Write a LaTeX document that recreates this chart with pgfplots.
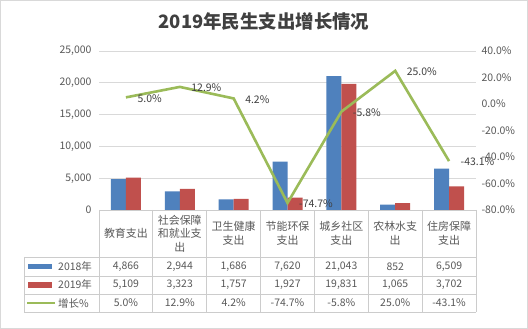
\documentclass[border=0pt]{standalone}
\usepackage{fontspec}
\setmainfont{Noto Sans CJK SC}
\usepackage{pgfplots}
\usepackage{pgfplotstable}
\pgfplotsset{compat=1.18}
\definecolor{cblue}{HTML}{4F81BD}
\definecolor{cred}{HTML}{C0504D}
\definecolor{cgreen}{HTML}{9BBB59}
\definecolor{txt}{HTML}{595959}
\definecolor{dtxt}{HTML}{404040}
\definecolor{gridc}{HTML}{D9D9D9}
\definecolor{tabc}{HTML}{CCCCCC}

\pgfplotstableread{
x a b g
0 4866 5109 5.0
1 2944 3323 12.9
2 1686 1757 4.2
3 7620 1927 -74.7
4 21043 19831 -5.8
5 852 1065 25.0
6 6509 3702 -43.1
}\data

\begin{document}
\begin{tikzpicture}
\useasboundingbox (0bp,0bp) rectangle (528bp,329bp);
\fill[white] (0bp,0bp) rectangle (528bp,329bp);
\draw[gridc, line width=0.8bp] (0.5bp,0.5bp) rectangle (527.5bp,328.5bp);
\node[text=dtxt] at (264bp,307bp) {\fontsize{18.5}{20}\selectfont\bfseries 2019年民生支出增长情况};

\begin{axis}[at={(99bp,119bp)}, anchor=south west, scale only axis, width=377bp, height=159bp,
 xmin=-0.5, xmax=6.5, ymin=0, ymax=25000, xtick=\empty, ytick={0,5000,...,25000},
 scaled y ticks=false,
 axis line style={draw=none}, ymajorgrids, major grid style={gridc, line width=0.8bp}, tick style={draw=none},
 ybar=0pt, bar width=15bp,
 yticklabel style={text=txt, font=\fontsize{10.5}{12}\selectfont, xshift=-4bp},
 /pgf/number format/.cd, fixed, 1000 sep={,}, assume math mode=true]
\addplot[fill=cblue, draw=none] table[x=x,y=a]{\data};
\addplot[fill=cred, draw=none] table[x=x,y=b]{\data};
\end{axis}

\begin{axis}[at={(99bp,119bp)}, anchor=south west, scale only axis, width=377bp, height=159bp,
 xmin=-0.5, xmax=6.5, ymin=-80, ymax=40, xtick=\empty, ytick={-80,-60,...,40},
 axis y line*=right, axis x line=none,
 axis line style={draw=none}, tick style={draw=none}, clip=false,
 yticklabel={\pgfmathprintnumber[fixed,fixed zerofill,precision=1,assume math mode=true]{\tick}\%},
 yticklabel style={text=txt, font=\fontsize{10.5}{12}\selectfont, xshift=2bp}]
\addplot[cgreen, line width=2.6bp, point meta=y,
  nodes near coords={\pgfmathprintnumber[fixed,fixed zerofill,precision=1,assume math mode=true]{\pgfplotspointmeta}\%},
  nodes near coords align={west},
  every node near coord/.append style={xshift=7bp, yshift=-1bp, text=dtxt, font=\fontsize{10.5}{12}\selectfont}]
  table[x=x,y=g]{\data};
\end{axis}

\begin{scope}[x=1bp,y=1bp]
% table grid
\foreach \k in {0,...,7} \draw[tabc, line width=0.8bp] ({99+53.857*\k},119) -- ({99+53.857*\k},17);
\draw[tabc, line width=0.8bp] (99,119) -- (476,119);
\foreach \yy in {72,53,34.5,17} \draw[tabc, line width=0.8bp] (24,\yy) -- (476,\yy);
\draw[tabc, line width=0.8bp] (24,72) -- (24,17);

% header
\foreach \i/\t in {0/{教育支出}, 1/{社会保障\\和就业支\\出}, 2/{卫生健康\\支出}, 3/{节能环保\\支出}, 4/{城乡社区\\支出}, 5/{农林水支\\出}, 6/{住房保障\\支出}}
  \node[align=center, text=txt, font=\fontsize{11}{13.5}\selectfont, inner sep=0pt] at ({125.93+53.857*\i},95.5) {\t};

% values
\foreach \i/\a/\b/\g in {0/{4,866}/{5,109}/{5.0\%}, 1/{2,944}/{3,323}/{12.9\%}, 2/{1,686}/{1,757}/{4.2\%}, 3/{7,620}/{1,927}/{-74.7\%}, 4/{21,043}/{19,831}/{-5.8\%}, 5/{852}/{1,065}/{25.0\%}, 6/{6,509}/{3,702}/{-43.1\%}}
{
  \node[text=txt, font=\fontsize{10.5}{12}\selectfont] at ({125.93+53.857*\i},62.5) {\a};
  \node[text=txt, font=\fontsize{10.5}{12}\selectfont] at ({125.93+53.857*\i},44) {\b};
  \node[text=txt, font=\fontsize{10.5}{12}\selectfont] at ({125.93+53.857*\i},26) {\g};
}

% legend
\fill[cblue] (28,59.5) rectangle (52,65);
\fill[cred] (28,41) rectangle (52,46.5);
\draw[cgreen, line width=2.6bp] (27,26) -- (55,26);
\node[anchor=west, text=txt, font=\fontsize{10.5}{12}\selectfont, inner sep=0pt] at (58,62.5) {2018年};
\node[anchor=west, text=txt, font=\fontsize{10.5}{12}\selectfont, inner sep=0pt] at (58,44) {2019年};
\node[anchor=west, text=txt, font=\fontsize{10.5}{12}\selectfont, inner sep=0pt] at (58,26) {增长\%};
\end{scope}
\end{tikzpicture}
\end{document}
